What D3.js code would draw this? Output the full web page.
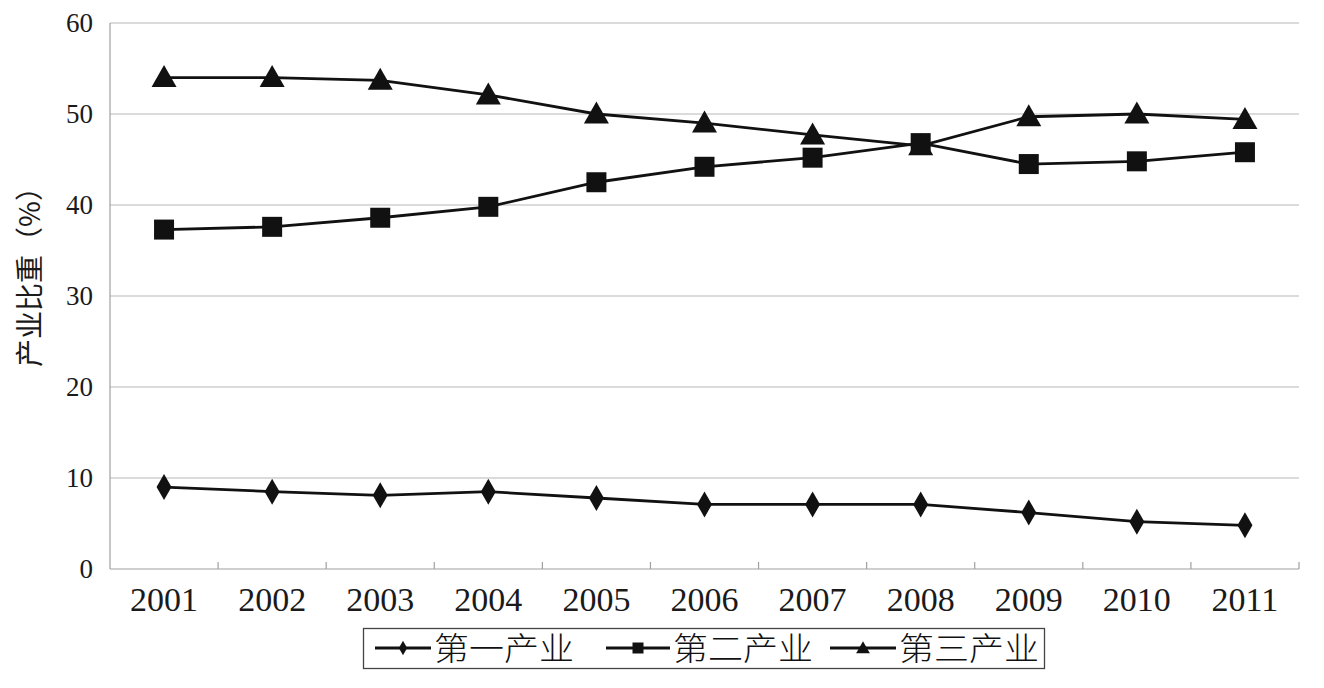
<!DOCTYPE html>
<html><head><meta charset="utf-8">
<script src="https://cdn.jsdelivr.net/npm/d3@7"></script>
<style>body{margin:0;background:#fff;} svg{display:block;}</style>
</head><body>
<svg id="c" width="1324" height="688"></svg>
<script>
const years = ["2001","2002","2003","2004","2005","2006","2007","2008","2009","2010","2011"];
const primary   = [9.0, 8.5, 8.1, 8.5, 7.8, 7.1, 7.1, 7.1, 6.2, 5.2, 4.8];
const secondary = [37.3, 37.6, 38.6, 39.8, 42.5, 44.2, 45.2, 46.8, 44.5, 44.8, 45.8];
const tertiary  = [54.0, 54.0, 53.7, 52.1, 50.0, 49.0, 47.7, 46.5, 49.7, 50.0, 49.4];
const seriesNames = ["第一产业","第二产业","第三产业"];
const yTicks = [0,10,20,30,40,50,60];

const svg = d3.select("#c");
const L=110, R=1299, T=23, B=569;
const x = d3.scaleBand().domain(years).range([L,R]);
const y = d3.scaleLinear().domain([0,60]).range([B,T]);
const serif = "'Liberation Serif', 'Times New Roman', 'DejaVu Serif', serif";
const cjk = "'Noto Sans CJK SC', sans-serif";

svg.append("g").selectAll("line").data(yTicks.filter(d=>d>0)).join("line")
  .attr("x1",L).attr("x2",R).attr("y1",d=>y(d)).attr("y2",d=>y(d))
  .attr("stroke","#b8b8b8").attr("stroke-width",1.2);
svg.append("line").attr("x1",L).attr("x2",L).attr("y1",T).attr("y2",B).attr("stroke","#a0a0a0").attr("stroke-width",1.2);
svg.append("line").attr("x1",L).attr("x2",R).attr("y1",B).attr("y2",B).attr("stroke","#a0a0a0").attr("stroke-width",1.2);
svg.append("g").selectAll("line").data(years).join("line")
  .attr("x1",d=>x(d)+x.step()).attr("x2",d=>x(d)+x.step())
  .attr("y1",B).attr("y2",B-7).attr("stroke","#a0a0a0").attr("stroke-width",1.2);

svg.append("g").selectAll("text").data(yTicks).join("text")
  .attr("x",93).attr("y",d=>y(d)+9).attr("text-anchor","end")
  .style("font-family",serif).attr("font-size",27).attr("fill","#1a1a1a").text(d=>d);
svg.append("g").selectAll("text").data(years).join("text")
  .attr("x",d=>x(d)+x.bandwidth()/2).attr("y",611).attr("text-anchor","middle")
  .style("font-family",serif).attr("font-size",34).attr("fill","#1a1a1a").text(d=>d);
svg.append("text").attr("transform","translate(40,270) rotate(-90)").attr("text-anchor","middle")
  .style("font-family",cjk).attr("font-weight",400).attr("font-size",28).attr("fill","#1a1a1a")
  .text("产业比重（%）");

const line = d3.line().x((d,i)=>x(years[i])+x.bandwidth()/2).y(d=>y(d));
const data = [primary, secondary, tertiary];
const shapes = [
  (s)=>`M0,${-13*s}L${7.5*s},0L0,${13*s}L${-7.5*s},0Z`,
  (s)=>`M${-10*s},${-10*s}H${10*s}V${10*s}H${-10*s}Z`,
  (s)=>`M0,${-12.5*s}L${12.5*s},${9.5*s}H${-12.5*s}Z`
];
data.forEach((arr,k)=>{
  svg.append("path").datum(arr).attr("d",line).attr("fill","none").attr("stroke","#111").attr("stroke-width",2.8);
  svg.append("g").selectAll("path").data(arr).join("path")
    .attr("transform",(d,i)=>`translate(${x(years[i])+x.bandwidth()/2},${y(d)})`)
    .attr("d",shapes[k](1)).attr("fill","#111");
});

const lg = svg.append("g");
lg.append("rect").attr("x",363.5).attr("y",628.5).attr("width",681).attr("height",40).attr("fill","#fff").attr("stroke","#444").attr("stroke-width",1.3);
const items = [{lx:375, tx:434}, {lx:606, tx:673}, {lx:830, tx:899}];
seriesNames.forEach((n,k)=>{
  const it = items[k];
  lg.append("line").attr("x1",it.lx).attr("x2",it.tx-3).attr("y1",648).attr("y2",648).attr("stroke","#111").attr("stroke-width",2.8);
  lg.append("path").attr("transform",`translate(${(it.lx+it.tx-3)/2},648)`).attr("d",shapes[k](0.55)).attr("fill","#111");
  lg.append("text").attr("x",it.tx).attr("y",660).style("font-family",cjk).attr("font-weight",300)
    .attr("font-size",32).attr("textLength",140).attr("lengthAdjust","spacingAndGlyphs").attr("fill","#111").text(n);
});
</script>
</body></html>
